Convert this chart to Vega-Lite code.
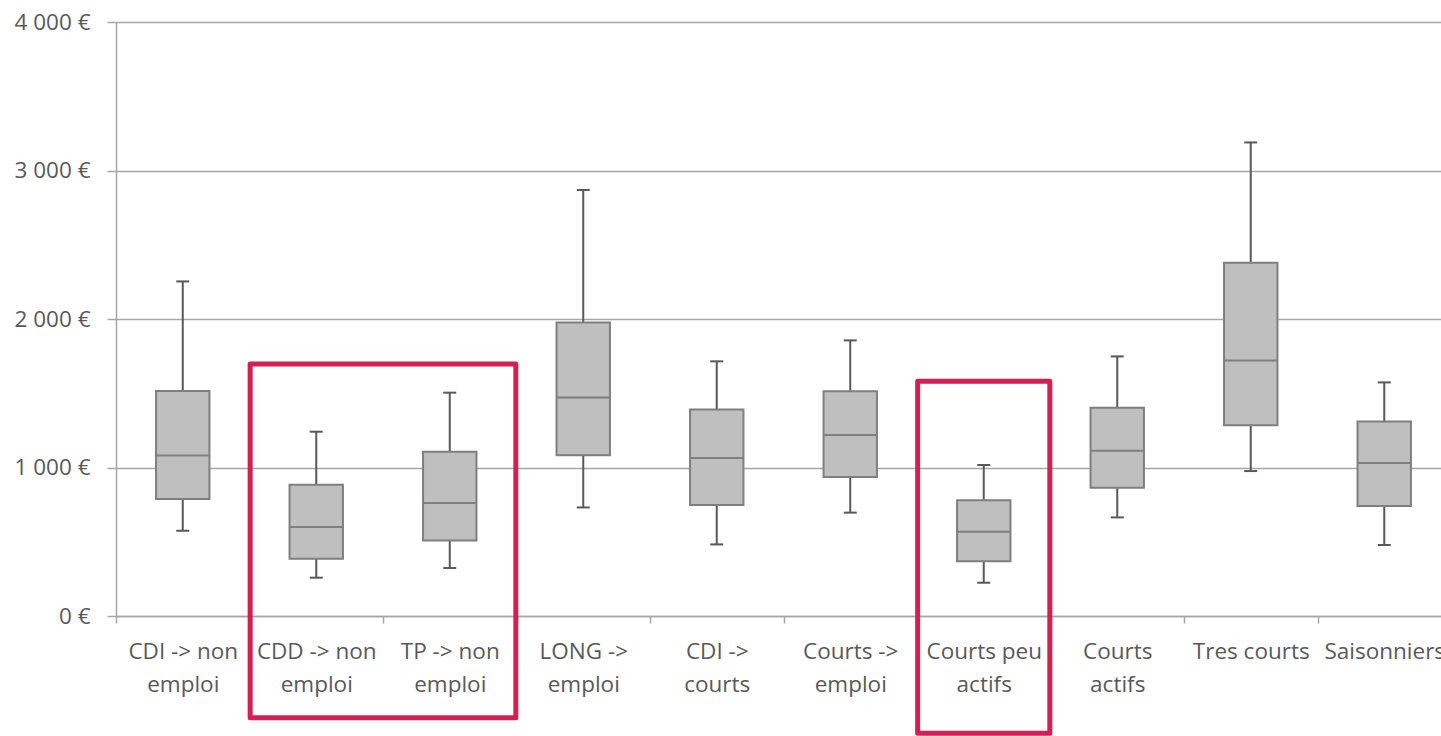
{
  "$schema": "https://vega.github.io/schema/vega-lite/v6.json",
  "width": 1325,
  "height": 594,
  "autosize": {"type": "none"},
  "padding": {"left": 116, "top": 22, "right": 0, "bottom": 120},
  "background": "white",
  "config": {
    "view": {"stroke": null},
    "font": "Open Sans",
    "axis": {"labelFont": "Open Sans", "labelFontSize": 22.5, "labelColor": "#595959"}
  },
  "datasets": {
    "boxes": [
      {"cat": "CDI -> non|emploi", "lo": 574, "q1": 788, "med": 1081, "q3": 1515, "hi": 2253},
      {"cat": "CDD -> non|emploi", "lo": 258, "q1": 386, "med": 599, "q3": 884, "hi": 1241},
      {"cat": "TP -> non|emploi", "lo": 323, "q1": 509, "med": 761, "q3": 1106, "hi": 1504},
      {"cat": "LONG ->|emploi", "lo": 731, "q1": 1082, "med": 1472, "q3": 1977, "hi": 2869},
      {"cat": "CDI ->|courts", "lo": 482, "q1": 747, "med": 1064, "q3": 1391, "hi": 1715},
      {"cat": "Courts ->|emploi", "lo": 696, "q1": 936, "med": 1219, "q3": 1513, "hi": 1856},
      {"cat": "Courts peu|actifs", "lo": 224, "q1": 368, "med": 568, "q3": 779, "hi": 1017},
      {"cat": "Courts|actifs", "lo": 664, "q1": 864, "med": 1113, "q3": 1403, "hi": 1748},
      {"cat": "Tres courts", "lo": 976, "q1": 1284, "med": 1721, "q3": 2379, "hi": 3189},
      {"cat": "Saisonniers", "lo": 478, "q1": 741, "med": 1030, "q3": 1310, "hi": 1573}
    ],
    "frames": [
      {"from": "CDD -> non|emploi", "to": "TP -> non|emploi", "top": 1697, "bottom": -685},
      {"from": "Courts peu|actifs", "to": "Courts peu|actifs", "top": 1580, "bottom": -790}
    ]
  },
  "data": {"name": "boxes"},
  "encoding": {
    "x": {
      "field": "cat",
      "type": "nominal",
      "sort": null,
      "title": null,
      "scale": {
        "domain": ["CDI -> non|emploi", "CDD -> non|emploi", "TP -> non|emploi", "LONG ->|emploi", "CDI ->|courts", "Courts ->|emploi", "Courts peu|actifs", "Courts|actifs", "Tres courts", "Saisonniers"],
        "range": [0, 1335],
        "paddingInner": 0,
        "paddingOuter": 0
      },
      "axis": {
        "labelAngle": 0,
        "labelExpr": "split(datum.label, '|')",
        "labelLineHeight": 33,
        "labelPadding": 17,
        "labelLimit": 0,
        "tickBand": "extent",
        "tickSize": 7,
        "tickColor": "#A6A6A6",
        "tickWidth": 1.5,
        "domainColor": "#A6A6A6",
        "domainWidth": 1.5,
        "grid": false
      }
    }
  },
  "layer": [
    {
      "mark": {"type": "rule", "color": "#595959", "strokeWidth": 2},
      "encoding": {
        "y": {
          "field": "lo",
          "type": "quantitative",
          "title": null,
          "scale": {"domain": [0, 4000], "nice": false, "zero": true},
          "axis": {
            "values": [0, 1000, 2000, 3000, 4000],
            "labelExpr": "replace(format(datum.value, ',d'), ',', ' ') + ' €'",
            "grid": true,
            "gridColor": "#A6A6A6",
            "gridWidth": 1.5,
            "domainColor": "#A6A6A6",
            "domainWidth": 1.5,
            "tickColor": "#A6A6A6",
            "tickWidth": 1.5,
            "tickSize": 9,
            "labelPadding": 17
          }
        },
        "y2": {"field": "hi"}
      }
    },
    {
      "mark": {"type": "bar", "fill": "#BFBFBF", "stroke": "#7F7F7F", "strokeWidth": 2, "width": {"band": 0.4}},
      "encoding": {
        "y": {"field": "q1", "type": "quantitative"},
        "y2": {"field": "q3"}
      }
    },
    {
      "mark": {"type": "tick", "color": "#7F7F7F", "size": 54, "thickness": 2, "opacity": 1},
      "encoding": {"y": {"field": "med", "type": "quantitative"}}
    },
    {
      "mark": {"type": "tick", "color": "#595959", "size": 13, "thickness": 2, "opacity": 1},
      "encoding": {"y": {"field": "lo", "type": "quantitative"}}
    },
    {
      "mark": {"type": "tick", "color": "#595959", "size": 13, "thickness": 2, "opacity": 1},
      "encoding": {"y": {"field": "hi", "type": "quantitative"}}
    },
    {
      "data": {"name": "frames"},
      "mark": {"type": "rect", "fill": null, "fillOpacity": 0, "stroke": "#D41F52", "strokeWidth": 5, "strokeJoin": "round"},
      "encoding": {
        "x": {"field": "from", "type": "nominal", "bandPosition": 0.005},
        "x2": {"field": "to", "bandPosition": 0.995},
        "y": {"field": "top", "type": "quantitative"},
        "y2": {"field": "bottom"}
      }
    }
  ]
}
